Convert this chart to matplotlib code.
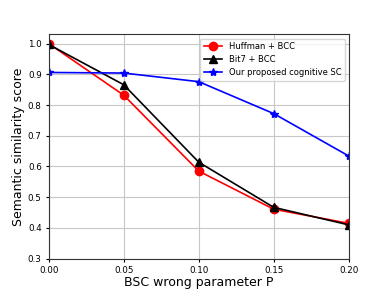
import numpy as np
import matplotlib
matplotlib.use('agg')
import matplotlib.pyplot as plt

p = [0.00, 0.05, 0.10, 0.15, 0.20]
huffman = [1.0, 0.832, 0.585, 0.461, 0.415]
bit7 = [0.997, 0.866, 0.614, 0.467, 0.410]
ours = [0.906, 0.904, 0.876, 0.772, 0.634]

fig = plt.figure(figsize=(3.88, 2.91), dpi=100)
ax = fig.add_axes([0.1255, 0.111, 0.7735, 0.771])
ax.plot(p, huffman, 'r-o', lw=1.2, ms=6, label='Huffman + BCC')
ax.plot(p, bit7, 'k-^', lw=1.2, ms=6, label='Bit7 + BCC')
ax.plot(p, ours, 'b-*', lw=1.2, ms=6, label='Our proposed cognitive SC')
ax.set_xlim(0, 0.2)
ax.set_ylim(0.3, 1.03)
ax.set_xticks(p)
ax.set_yticks(np.arange(0.3, 1.01, 0.1))
ax.tick_params(labelsize=6.3, length=2.5, pad=2.5)
ax.grid(True, color='#c8c8c8', lw=0.8)
ax.set_xlabel('BSC wrong parameter P', fontsize=9, labelpad=1)
ax.set_ylabel('Semantic similarity score', fontsize=9, labelpad=2)
for s in ax.spines.values():
    s.set_color('#333333')
ax.legend(loc='upper right', fontsize=6, handlelength=2.2, borderpad=0.4, labelspacing=0.5)
fig.savefig('out.png', dpi=100)
